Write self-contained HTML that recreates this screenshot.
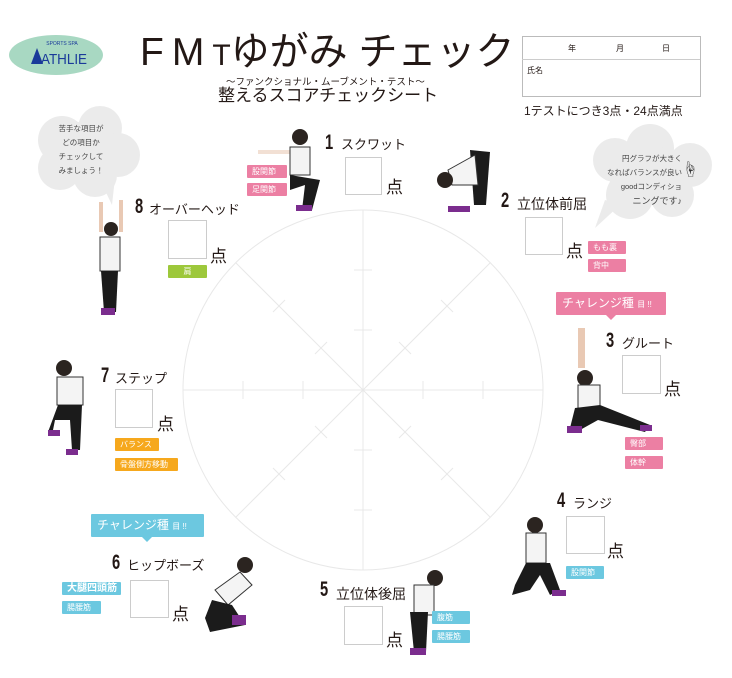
<!DOCTYPE html>
<html><head><meta charset="utf-8"><style>
body{margin:0;width:732px;height:678px;background:#fff;overflow:hidden;font-family:"Liberation Sans","Noto Sans CJK JP",sans-serif;color:#231815}
.a{position:absolute;white-space:nowrap}
.box{position:absolute;border:1px solid #ccc;background:#fff}
.tag{position:absolute;color:#fff;font-size:8px;line-height:13px;padding-left:5px;box-sizing:border-box;border-radius:1px}
.p{background:#ec7fa3}.b{background:#6cc8e0}.o{background:#f6a81d}.g{background:#9dc83b}
.n{position:absolute;font-size:21px;font-weight:bold;transform:scaleX(.7);transform-origin:left top;line-height:22px}
.l{position:absolute;font-size:13px;line-height:16px}
.ten{position:absolute;font-size:17px;line-height:18px}
</style></head><body>
<svg width="732" height="678" style="position:absolute;left:0;top:0">
<g stroke="#e8e8e8" fill="none" stroke-width="1">
<circle cx="363" cy="390" r="180"/>
<line x1="183" y1="390" x2="543" y2="390"/><line x1="363" y1="210" x2="363" y2="570"/>
<line x1="236" y1="263" x2="490" y2="517"/><line x1="236" y1="517" x2="490" y2="263"/>
<g>
<line x1="354" y1="270" x2="372" y2="270"/><line x1="354" y1="330" x2="372" y2="330"/><line x1="354" y1="450" x2="372" y2="450"/><line x1="354" y1="510" x2="372" y2="510"/>
<line x1="243" y1="381" x2="243" y2="399"/><line x1="303" y1="381" x2="303" y2="399"/><line x1="423" y1="381" x2="423" y2="399"/><line x1="483" y1="381" x2="483" y2="399"/>
</g>
<g transform="translate(363 390)">
<g id="dt"><line x1="36" y1="-48" x2="48" y2="-36"/><line x1="78" y1="-90" x2="90" y2="-78"/></g>
<use href="#dt" transform="rotate(90)"/><use href="#dt" transform="rotate(180)"/><use href="#dt" transform="rotate(270)"/>
</g>
</g>
<!-- logo -->
<ellipse cx="56" cy="55" rx="47" ry="20" fill="#a8d8c2"/>
<text x="62" y="45" font-size="5" fill="#1a3a9a" text-anchor="middle" font-family="Liberation Sans">SPORTS SPA</text>
<text x="64" y="64" font-size="15" fill="#1a3a9a" text-anchor="middle" font-family="Liberation Sans" textLength="46" lengthAdjust="spacingAndGlyphs">ATHLIE</text>
<polygon points="31,64 37,48 43,64" fill="#1a3a9a"/>
<!-- name box -->
<rect x="522.5" y="36.5" width="178" height="60" fill="none" stroke="#bbb"/>
<line x1="522" y1="59.5" x2="700" y2="59.5" stroke="#ccc"/>
<!-- clouds -->
<g fill="#ebebeb">
<circle cx="62" cy="140" r="24"/><circle cx="100" cy="128" r="22"/><circle cx="118" cy="155" r="22"/><circle cx="95" cy="175" r="22"/><circle cx="60" cy="168" r="22"/><circle cx="80" cy="150" r="28"/>
<polygon points="100,180 112,205 115,178"/>
<circle cx="615" cy="160" r="22"/><circle cx="650" cy="148" r="24"/><circle cx="690" cy="165" r="22"/><circle cx="672" cy="195" r="22"/><circle cx="630" cy="195" r="24"/><circle cx="650" cy="175" r="30"/>
<polygon points="605,200 595,228 620,205"/>
</g>
<text x="690" y="175" font-size="16" text-anchor="middle" fill="#333">☝</text>
<g>
<rect x="258" y="150" width="48" height="4" fill="#f2e0d4"/>
<circle cx="300" cy="137" r="8" fill="#2b2420"/><rect x="290" y="147" width="20" height="28" fill="#f4f4f4" stroke="#333"/>
<path d="M290 175 L320 180 L312 210 L302 210 L305 185 L290 190Z" fill="#1b1b1b"/><rect x="296" y="205" width="16" height="6" fill="#7b2d8e"/>
<path d="M470 150 L490 152 L486 205 L474 205Z" fill="#1b1b1b"/><path d="M448 170 L475 155 L478 185 L452 185Z" fill="#f4f4f4" stroke="#333"/>
<circle cx="445" cy="180" r="8" fill="#2b2420"/><rect x="448" y="206" width="22" height="6" fill="#7b2d8e"/>
<rect x="578" y="328" width="7" height="40" fill="#e9c9b4"/><circle cx="585" cy="378" r="8" fill="#2b2420"/><rect x="578" y="385" width="22" height="25" fill="#f4f4f4" stroke="#333"/>
<path d="M575 408 L600 405 L650 425 L645 432 L598 420 L580 430 L570 428Z" fill="#1b1b1b"/><rect x="567" y="426" width="15" height="7" fill="#7b2d8e"/><rect x="640" y="425" width="12" height="6" fill="#7b2d8e"/>
<circle cx="535" cy="525" r="8" fill="#2b2420"/><rect x="526" y="533" width="20" height="30" fill="#f4f4f4" stroke="#333"/>
<path d="M526 563 L550 563 L560 590 L550 595 L540 575 L530 590 L512 595 L515 585Z" fill="#1b1b1b"/><rect x="552" y="590" width="14" height="6" fill="#7b2d8e"/>
<circle cx="435" cy="578" r="8" fill="#2b2420"/><rect x="414" y="585" width="20" height="30" fill="#f4f4f4" stroke="#333"/>
<path d="M410 612 L428 612 L426 652 L414 652Z" fill="#1b1b1b"/><rect x="410" y="648" width="16" height="7" fill="#7b2d8e"/>
<circle cx="245" cy="565" r="8" fill="#2b2420"/><path d="M215 590 L240 572 L252 585 L228 605Z" fill="#f4f4f4" stroke="#333"/>
<path d="M212 600 L232 605 L245 625 L210 632 L205 618Z" fill="#1b1b1b"/><rect x="232" y="615" width="14" height="10" fill="#7b2d8e"/>
<circle cx="64" cy="368" r="8" fill="#2b2420"/><rect x="57" y="377" width="26" height="28" fill="#f4f4f4" stroke="#333"/>
<path d="M58 405 L82 405 L80 450 L72 450 L70 420 L55 420 L52 435 L48 432Z" fill="#1b1b1b"/><rect x="48" y="430" width="12" height="6" fill="#7b2d8e"/><rect x="66" y="449" width="12" height="6" fill="#7b2d8e"/>
<rect x="99" y="202" width="4" height="30" fill="#e9c9b4"/><rect x="119" y="200" width="4" height="32" fill="#e9c9b4"/>
<circle cx="111" cy="229" r="7" fill="#2b2420"/><rect x="100" y="237" width="20" height="34" fill="#f4f4f4" stroke="#333"/>
<path d="M101 271 L118 271 L116 312 L104 312Z" fill="#1b1b1b"/><rect x="101" y="308" width="14" height="7" fill="#7b2d8e"/>
</g>
<polygon points="606,315 616,315 611,320" fill="#ec7fa3"/>
<polygon points="142,537 152,537 147,542" fill="#6cc8e0"/>
</svg>

<div class="a" style="left:140px;top:30px;font-size:39px;line-height:46px"><span style="letter-spacing:8px">FM</span><span style="font-size:30px">T</span>ゆがみ チェック</div>
<div class="a" style="left:226px;top:74px;font-size:9.5px">～ファンクショナル・ムーブメント・テスト～</div>
<div class="a" style="left:218px;top:86px;font-size:17px;line-height:20px">整えるスコアチェックシート</div>
<div class="a" style="left:568px;top:43px;font-size:8px">年</div>
<div class="a" style="left:616px;top:43px;font-size:8px">月</div>
<div class="a" style="left:662px;top:43px;font-size:8px">日</div>
<div class="a" style="left:527px;top:65px;font-size:8px">氏名</div>
<div class="a" style="left:524px;top:102px;font-size:12px">1テストにつき3点・24点満点</div>

<div class="a" style="left:56px;top:122px;font-size:7.5px;line-height:14px;text-align:center;width:50px;color:#444">苦手な項目が<br>どの項目か<br>チェックして<br>みましょう！</div>
<div class="a" style="left:590px;top:152px;font-size:7.5px;line-height:14px;text-align:right;width:92px;color:#444">円グラフが大きく<br>なればバランスが良い<br>goodコンディショ<br><span style="font-size:9px">ニングです♪</span></div>

<div class="n" style="left:325px;top:132px">1</div><div class="l" style="left:341px;top:137px">スクワット</div>
<div class="box" style="left:345px;top:157px;width:35px;height:36px"></div><div class="ten" style="left:386px;top:179px">点</div>
<div class="tag p" style="left:247px;top:165px;width:40px">股関節</div><div class="tag p" style="left:247px;top:183px;width:40px">足関節</div>
<div class="n" style="left:501px;top:190px">2</div><div class="l" style="left:517px;top:196px;font-size:14px">立位体前屈</div>
<div class="box" style="left:525px;top:217px;width:36px;height:36px"></div><div class="ten" style="left:566px;top:243px">点</div>
<div class="tag p" style="left:588px;top:241px;width:38px">もも裏</div><div class="tag p" style="left:588px;top:259px;width:38px">背中</div>
<div class="tag p" style="left:556px;top:292px;width:110px;height:23px;font-size:12px;line-height:23px;padding-left:6px">チャレンジ種 <span style="font-size:8px">目 !!</span></div>
<div class="n" style="left:606px;top:330px">3</div><div class="l" style="left:622px;top:336px">グルート</div>
<div class="box" style="left:622px;top:355px;width:37px;height:37px"></div><div class="ten" style="left:664px;top:381px">点</div>
<div class="tag p" style="left:625px;top:437px;width:38px">臀部</div><div class="tag p" style="left:625px;top:456px;width:38px">体幹</div>
<div class="n" style="left:557px;top:490px">4</div><div class="l" style="left:573px;top:496px">ランジ</div>
<div class="box" style="left:566px;top:516px;width:37px;height:36px"></div><div class="ten" style="left:607px;top:543px">点</div>
<div class="tag b" style="left:566px;top:566px;width:38px">股関節</div>
<div class="n" style="left:320px;top:579px">5</div><div class="l" style="left:336px;top:586px;font-size:14px">立位体後屈</div>
<div class="box" style="left:344px;top:606px;width:37px;height:37px"></div><div class="ten" style="left:386px;top:632px">点</div>
<div class="tag b" style="left:432px;top:611px;width:38px">腹筋</div><div class="tag b" style="left:432px;top:630px;width:38px">腸腰筋</div>
<div class="tag b" style="left:91px;top:514px;width:113px;height:23px;font-size:12px;line-height:23px;padding-left:6px">チャレンジ種 <span style="font-size:8px">目 !!</span></div>
<div class="n" style="left:112px;top:552px">6</div><div class="l" style="left:127px;top:558px">ヒップボーズ</div>
<div class="box" style="left:130px;top:580px;width:37px;height:36px"></div><div class="ten" style="left:172px;top:606px">点</div>
<div class="tag b" style="left:62px;top:582px;width:59px;font-size:10px;font-weight:bold">大腿四頭筋</div><div class="tag b" style="left:62px;top:601px;width:39px">腸腰筋</div>
<div class="n" style="left:101px;top:365px">7</div><div class="l" style="left:115px;top:371px">ステップ</div>
<div class="box" style="left:115px;top:389px;width:36px;height:37px"></div><div class="ten" style="left:157px;top:416px">点</div>
<div class="tag o" style="left:115px;top:438px;width:44px">バランス</div><div class="tag o" style="left:115px;top:458px;width:63px">骨盤側方移動</div>
<div class="n" style="left:135px;top:196px">8</div><div class="l" style="left:149px;top:202px">オーバーヘッド</div>
<div class="box" style="left:168px;top:220px;width:37px;height:37px"></div><div class="ten" style="left:210px;top:248px">点</div>
<div class="tag g" style="left:168px;top:265px;width:39px;text-align:center;padding:0">肩</div>
</body></html>
